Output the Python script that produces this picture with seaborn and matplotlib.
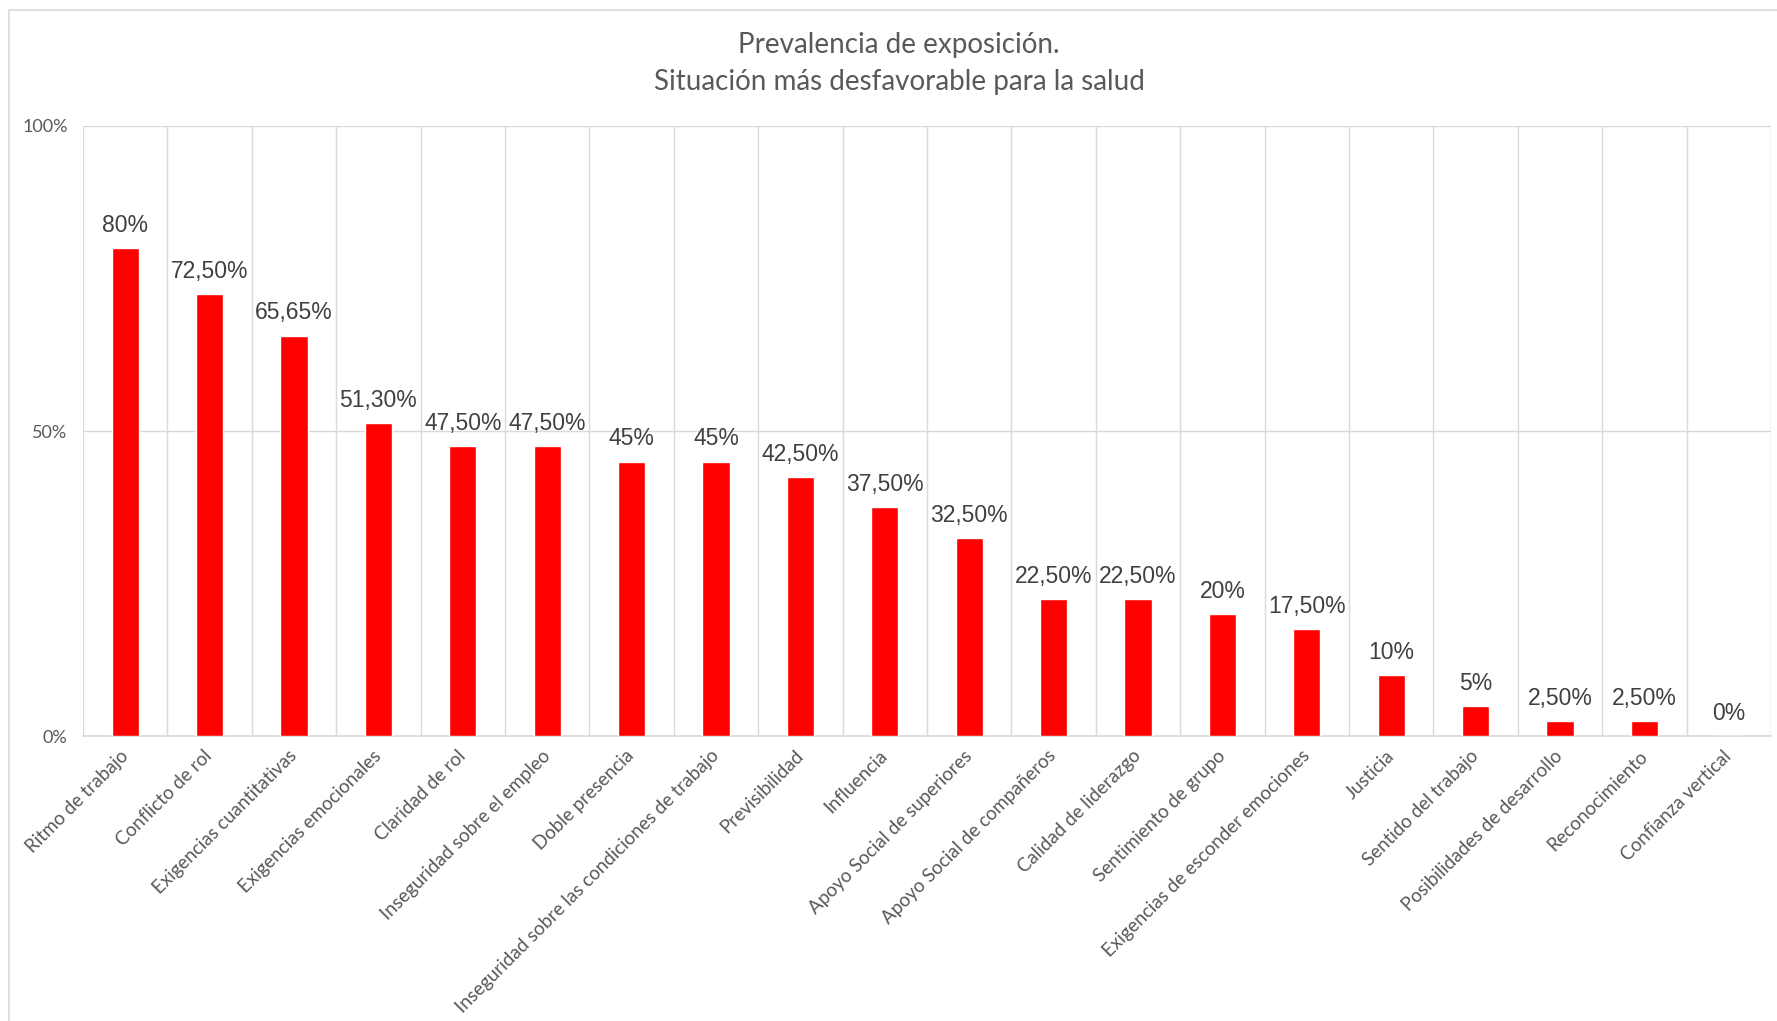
import matplotlib
matplotlib.use("Agg")
import matplotlib.pyplot as plt
import matplotlib.transforms as mtrans
import seaborn as sns
import pandas as pd
from matplotlib.patches import Rectangle
from matplotlib.ticker import FixedLocator

categories = [
    "Ritmo de trabajo", "Conflicto de rol", "Exigencias cuantitativas",
    "Exigencias emocionales", "Claridad de rol", "Inseguridad sobre el empleo",
    "Doble presencia", "Inseguridad sobre las condiciones de trabajo",
    "Previsibilidad", "Influencia", "Apoyo Social de superiores",
    "Apoyo Social de compañeros", "Calidad de liderazgo", "Sentimiento de grupo",
    "Exigencias de esconder emociones", "Justicia", "Sentido del trabajo",
    "Posibilidades de desarrollo", "Reconocimiento", "Confianza vertical",
]
values = [80, 72.5, 65.65, 51.3, 47.5, 47.5, 45, 45, 42.5, 37.5, 32.5,
          22.5, 22.5, 20, 17.5, 10, 5, 2.5, 2.5, 0]
value_labels = ["80%", "72,50%", "65,65%", "51,30%", "47,50%", "47,50%", "45%",
                "45%", "42,50%", "37,50%", "32,50%", "22,50%", "22,50%", "20%",
                "17,50%", "10%", "5%", "2,50%", "2,50%", "0%"]
y_ticks = [0, 50, 100]
y_tick_labels = ["0%", "50%", "100%"]
title = "Prevalencia de exposición.\nSituación más desfavorable para la salud"

sns.set_theme(style="white")
plt.rcParams['font.family'] = ['Lato', 'DejaVu Sans']

df = pd.DataFrame({"cat": categories, "val": values})

fig = plt.figure(figsize=(17.77, 10.21), dpi=100)
left = 83 / 1777
right = 1771 / 1777
ax = fig.add_axes([left, 0.279, right - left, 0.5976])

sns.barplot(data=df, x="cat", y="val", color="#ff0000", width=0.32,
            saturation=1, ax=ax, zorder=3)

ax.set_ylim(0, 100)
ax.set_xlim(-0.5, len(categories) - 0.5)
ax.set_yticks(y_ticks)
ax.set_yticklabels(y_tick_labels, color="#595959", fontsize=13)
ax.set_xlabel("")
ax.set_ylabel("")
ax.set_xticks(range(len(categories)))
ax.set_xticklabels(categories, rotation=45, ha="right", rotation_mode="anchor",
                   color="#595959", fontsize=13.5)
ax.tick_params(axis="x", length=0, pad=8)
ax.tick_params(axis="y", length=0, pad=11)
shift = mtrans.ScaledTranslation(-6 / 100, 0, fig.dpi_scale_trans)
for t in ax.get_xticklabels():
    t.set_transform(t.get_transform() + shift)

ax.xaxis.set_minor_locator(FixedLocator([i - 0.5 for i in range(len(categories) + 1)]))
ax.grid(True, axis="y", which="major", color="#d9d9d9", linewidth=1, zorder=0)
ax.grid(True, axis="x", which="minor", color="#d9d9d9", linewidth=1, zorder=0)
ax.grid(False, axis="x", which="major")
for s in ["top", "right", "left"]:
    ax.spines[s].set_visible(False)
ax.spines["bottom"].set_color("#d9d9d9")
ax.spines["bottom"].set_linewidth(1.2)

for i, (v, lab) in enumerate(zip(values, value_labels)):
    ax.annotate(lab, (i, v), xytext=(0, 8), textcoords="offset points",
                ha="center", va="bottom", fontsize=16.5, color="#404040",
                family=["Liberation Sans", "DejaVu Sans"])

fig.text(0.506, 0.938, title, ha="center", va="center", fontsize=20,
         color="#595959", linespacing=1.55)

fig.patches.append(Rectangle((9 / 1777, -0.01), 1.0, 1 - 10 / 1021 + 0.01,
                             transform=fig.transFigure, fill=False,
                             edgecolor="#d9d9d9", linewidth=1.2))

fig.savefig("out.png", dpi=100, facecolor="white")
